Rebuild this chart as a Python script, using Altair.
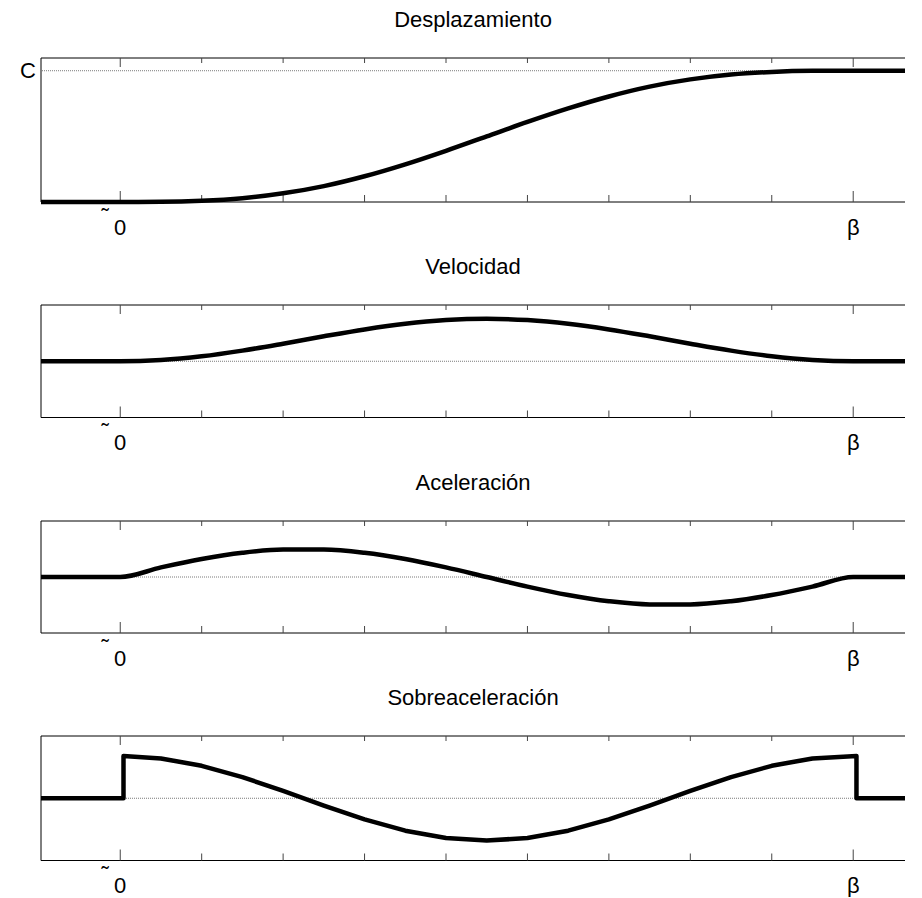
import altair as alt
import pandas as pd

FONT = "Liberation Sans"
FS = 22

# ---------------- data ----------------
titles = ["Desplazamiento", "Velocidad", "Aceleración", "Sobreaceleración"]

x_domain = [-0.973, 9.636]
tick_major = [0, 9]
tick_minor = [1, 2, 3, 4, 5, 6, 7, 8]
label_t = [0, 9]
label_text = ["0", "β"]
tilde_t = [0]
tilde_text = ["˜"]
c_val = [1.0]
c_text = ["C"]

disp_t = [-0.973, 0, 0.5, 1, 1.5, 2, 2.5, 3, 3.5, 4, 4.5, 5, 5.5, 6, 6.5, 7, 7.5, 8, 8.5, 9, 9.636]
disp_v = [0, 0, 0.001, 0.009, 0.029, 0.066, 0.121, 0.196, 0.287, 0.390, 0.500,
          0.610, 0.713, 0.804, 0.879, 0.934, 0.971, 0.991, 0.999, 1.0, 1.0]

vel_t = [-0.973, 0, 0.5, 1, 1.5, 2, 2.5, 3, 3.5, 4, 4.5, 5, 5.5, 6, 6.5, 7, 7.5, 8, 8.5, 9, 9.636]
vel_v = [0, 0, 0.023, 0.088, 0.189, 0.312, 0.443, 0.566, 0.667, 0.732, 0.755,
         0.732, 0.667, 0.566, 0.443, 0.312, 0.189, 0.088, 0.023, 0, 0]

acc_t = [-0.973, 0, 0.5, 1, 1.5, 2, 2.5, 3, 3.5, 4, 4.5, 5, 5.5, 6, 6.5, 7, 7.5, 8, 8.5, 9, 9.636]
acc_v = [0, 0, 0.171, 0.321, 0.433, 0.49, 0.49, 0.433, 0.321, 0.171, 0,
         -0.171, -0.321, -0.433, -0.49, -0.49, -0.433, -0.321, -0.171, 0, 0]

jerk_t = [-0.973, 0.04, 0.04, 0.5, 1, 1.5, 2, 2.5, 3, 3.5, 4, 4.5, 5, 5.5, 6, 6.5, 7, 7.5, 8, 8.5,
          9.04, 9.04, 9.636]
jerk_v = [0, 0, 0.68, 0.639, 0.521, 0.34, 0.118, -0.118, -0.34, -0.521, -0.639, -0.68,
          -0.639, -0.521, -0.34, -0.118, 0.118, 0.34, 0.521, 0.639, 0.68, 0, 0]

W = 864


def one_row():
    return alt.Chart(pd.DataFrame({"a": [0]}))


def panel(title, ts, vs, ydom, H, refs, interp, show_c=False, lab_dy=32.5):
    xs = alt.Scale(domain=x_domain, nice=False, zero=False)
    ys = alt.Scale(domain=ydom, nice=False, zero=False)
    df = pd.DataFrame({"t": ts, "v": vs, "i": list(range(len(ts)))})

    layers = []
    if refs:
        layers.append(
            alt.Chart(pd.DataFrame({"v": refs})).mark_rule(
                color="#7a7a7a", strokeWidth=1, strokeDash=[1, 1]
            ).encode(y=alt.Y("v:Q", scale=ys, axis=None))
        )
    # frame: top, bottom, left
    layers.append(one_row().mark_rule(color="black", strokeWidth=1).encode(
        x=alt.value(0), x2=alt.value(W), y=alt.value(0)))
    layers.append(one_row().mark_rule(color="black", strokeWidth=1).encode(
        x=alt.value(0), x2=alt.value(W), y=alt.value(H)))
    layers.append(one_row().mark_rule(color="black", strokeWidth=1).encode(
        x=alt.value(0), y=alt.value(0), y2=alt.value(H)))
    # inward ticks
    maj = pd.DataFrame({"t": tick_major})
    mnr = pd.DataFrame({"t": tick_minor})
    tick_col = "#444444"
    for d, lb, lt in ((maj, 11, 9), (mnr, 7, 5)):
        layers.append(alt.Chart(d).mark_rule(color=tick_col, strokeWidth=1).encode(
            x=alt.X("t:Q", scale=xs, axis=None), y=alt.value(H), y2=alt.value(H - lb)))
        layers.append(alt.Chart(d).mark_rule(color=tick_col, strokeWidth=1).encode(
            x=alt.X("t:Q", scale=xs, axis=None), y=alt.value(0), y2=alt.value(lt)))
    # curve
    layers.append(alt.Chart(df).mark_line(
        color="black", strokeWidth=4.5, interpolate=interp, strokeJoin="round", strokeCap="butt"
    ).encode(
        x=alt.X("t:Q", scale=xs, axis=None),
        y=alt.Y("v:Q", scale=ys, axis=None),
        order=alt.Order("i:Q"),
    ))
    # x tick labels
    layers.append(alt.Chart(pd.DataFrame({"t": label_t, "s": label_text})).mark_text(
        font=FONT, fontSize=FS, color="black", baseline="alphabetic", align="center"
    ).encode(x=alt.X("t:Q", scale=xs, axis=None), y=alt.value(H + lab_dy), text="s:N"))
    layers.append(alt.Chart(pd.DataFrame({"t": tilde_t, "s": tilde_text})).mark_text(
        font=FONT, fontSize=FS, color="black", baseline="alphabetic", align="center", dx=-15
    ).encode(x=alt.X("t:Q", scale=xs, axis=None), y=alt.value(H + lab_dy - 11), text="s:N"))
    if show_c:
        layers.append(alt.Chart(pd.DataFrame({"v": c_val, "s": c_text})).mark_text(
            font=FONT, fontSize=FS, color="black", baseline="middle", align="right", dx=-5
        ).encode(x=alt.value(0), y=alt.Y("v:Q", scale=ys, axis=None), text="s:N"))

    return alt.layer(*layers).properties(
        width=W, height=H,
        title=alt.TitleParams(
            text=title, font=FONT, fontSize=FS, fontWeight="normal", color="black",
            anchor="middle", baseline="alphabetic", offset=9,
        ),
    )


p1 = panel(titles[0], disp_t, disp_v, [0, 1.097], 144, [1.0], "monotone", show_c=True)
p2 = panel(titles[1], vel_t, vel_v, [-1, 1], 112.5, [0], "monotone")
p3 = panel(titles[2], acc_t, acc_v, [-1, 1], 112, [0], "monotone")
p4 = panel(titles[3], jerk_t, jerk_v, [-1, 1], 124.5, [0], "linear")

chart = alt.vconcat(p1, p2, p3, p4, spacing=103, bounds="flush").properties(
    padding={"left": 12, "top": 0, "right": 0, "bottom": 0}
).configure_view(stroke=None)

chart.save("out.html", embed_options={"renderer": "svg", "actions": False})
